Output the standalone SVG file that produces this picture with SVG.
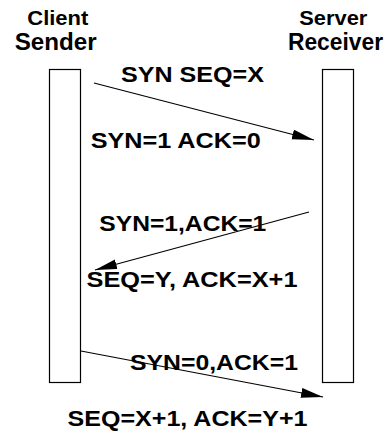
<svg xmlns="http://www.w3.org/2000/svg" width="388" height="432" viewBox="0 0 388 432">
<style>
.t{font-family:"Liberation Sans",Arial,sans-serif;font-weight:bold;fill:#000}
.h1{font-size:21px}
.h2{font-size:24px}
.l{font-size:22px}
.box{fill:#fff;stroke:#000;stroke-width:1.2}
.arr{stroke:#000;stroke-width:1.2;fill:none;marker-end:url(#ah)}
</style>
<defs>
<marker id="ah" markerUnits="userSpaceOnUse" markerWidth="24" markerHeight="12" refX="22" refY="5" orient="auto">
<path d="M0,0 L22,5 L0,10 Z" fill="#000"/>
</marker>
</defs>
<rect width="388" height="432" fill="#fff"/>
<g id="client">
<rect class="box" x="49.5" y="69.5" width="31" height="313"/>
<text class="t h1" x="57.8" y="25" text-anchor="middle" textLength="61" lengthAdjust="spacingAndGlyphs">Client</text>
<text class="t h2" x="55.7" y="49.5" text-anchor="middle" textLength="82" lengthAdjust="spacingAndGlyphs">Sender</text>
</g>
<g id="server">
<rect class="box" x="322.5" y="69.5" width="31" height="313"/>
<text class="t h1" x="333.3" y="25" text-anchor="middle" textLength="68" lengthAdjust="spacingAndGlyphs">Server</text>
<text class="t h2" x="335.5" y="49.5" text-anchor="middle" textLength="95" lengthAdjust="spacingAndGlyphs">Receiver</text>
</g>
<g id="connectors">
<line class="arr" x1="94" y1="83" x2="314" y2="140"/>
<line class="arr" x1="309" y1="212" x2="95" y2="270"/>
<line class="arr" x1="81" y1="351" x2="323" y2="397"/>
</g>
<g id="labels">
<text class="t l" x="121" y="82" textLength="143" lengthAdjust="spacingAndGlyphs">SYN SEQ=X</text>
<text class="t l" x="90.7" y="148.3" textLength="170" lengthAdjust="spacingAndGlyphs">SYN=1 ACK=0</text>
<text class="t l" x="99.3" y="230.7" textLength="167" lengthAdjust="spacingAndGlyphs">SYN=1,ACK=1</text>
<text class="t l" x="86.5" y="287" textLength="211" lengthAdjust="spacingAndGlyphs">SEQ=Y, ACK=X+1</text>
<text class="t l" x="130" y="370" textLength="168" lengthAdjust="spacingAndGlyphs">SYN=0,ACK=1</text>
<text class="t l" x="67.5" y="426.3" textLength="240" lengthAdjust="spacingAndGlyphs">SEQ=X+1, ACK=Y+1</text>
</g>
</svg>
